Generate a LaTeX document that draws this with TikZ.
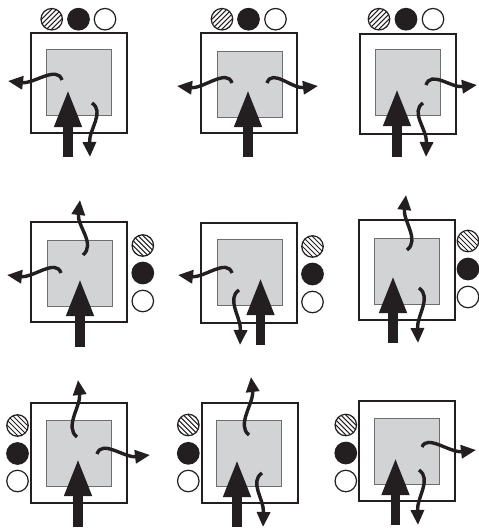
\documentclass[tikz,border=0pt]{standalone}
\usetikzlibrary{arrows.meta}
\definecolor{boxgray}{RGB}{209,211,212}
\definecolor{edgegray}{RGB}{110,110,112}
\definecolor{ink}{RGB}{35,31,32}
\tikzset{
  outerbox/.style={draw=ink, line width=2pt, fill=white, minimum width=96pt, minimum height=100pt, inner sep=0pt, outer sep=0pt},
  innerbox/.style={draw=edgegray, line width=1pt, fill=boxgray, minimum width=65pt, minimum height=66pt, inner sep=0pt},
  dot/.style={circle, draw=ink, line width=1.2pt, minimum size=21.5pt, inner sep=0pt},
  blackdot/.style={dot, fill=ink},
  whitedot/.style={dot, fill=white},
  hatchA/.style={dot, fill=white, path picture={\foreach \k in {-4,...,4}{\draw[ink, line width=1pt] (path picture bounding box.center) ++(\k*5-15,15) -- ++(30,-30);}}},
  hatchB/.style={dot, fill=white, path picture={\foreach \k in {-4,...,4}{\draw[ink, line width=1pt] (path picture bounding box.center) ++(\k*5-15,-15) -- ++(30,30);}}},
  bigarrow/.style={draw=ink, line width=9.5pt, -{Triangle[length=38pt,width=25pt]}},
  wave/.style={draw=ink, line width=3.4pt, -{Triangle[length=15pt,width=13pt]}},
}
\begin{document}
\begin{tikzpicture}[x=1pt, y=-1pt]
\useasboundingbox (0,0) rectangle (479,531);
% ---------- boxes ----------
\node[outerbox] (o1) at (79,83) {};
\node[innerbox] (i1) at (78.5,82) {};
\node[outerbox] (o2) at (249,83) {};
\node[innerbox] (i2) at (249.5,84) {};
\node[outerbox] (o3) at (407.5,83.5) {};
\node[innerbox] (i3) at (408,82) {};
\node[outerbox] (o4) at (79,271.5) {};
\node[innerbox] (i4) at (79.5,273.5) {};
\node[outerbox] (o5) at (249,272.5) {};
\node[innerbox] (i5) at (249.5,272) {};
\node[outerbox] (o6) at (407,269.5) {};
\node[innerbox] (i6) at (407,271) {};
\node[outerbox] (o7) at (79,452.5) {};
\node[innerbox] (i7) at (79,453) {};
\node[outerbox] (o8) at (249.5,453) {};
\node[innerbox] (i8) at (249,453) {};
\node[outerbox] (o9) at (407,451) {};
\node[innerbox] (i9) at (407,451) {};
% ---------- circles ----------
\node[hatchA] (c1a) at (51.7,19.2) {};
\node[blackdot] (c1b) at (78.5,19.2) {};
\node[whitedot] (c1c) at (105,19.2) {};
\node[hatchA] (c2a) at (222,19.2) {};
\node[blackdot] (c2b) at (248.5,19.2) {};
\node[whitedot] (c2c) at (275.5,19.2) {};
\node[hatchA] (c3a) at (379,19.2) {};
\node[blackdot] (c3b) at (406,19.2) {};
\node[whitedot] (c3c) at (433,19.2) {};
\node[hatchB] (c4a) at (142.8,245.5) {};
\node[blackdot] (c4b) at (142.8,273) {};
\node[whitedot] (c4c) at (142.8,301) {};
\node[hatchB] (c5a) at (312.5,246.5) {};
\node[blackdot] (c5b) at (312.5,274) {};
\node[whitedot] (c5c) at (312.5,302) {};
\node[hatchB] (c6a) at (468,241) {};
\node[blackdot] (c6b) at (468,269) {};
\node[whitedot] (c6c) at (468,297) {};
\node[hatchB] (c7a) at (17.5,425.5) {};
\node[blackdot] (c7b) at (17.5,453.5) {};
\node[whitedot] (c7c) at (17.5,481) {};
\node[hatchB] (c8a) at (188.3,425) {};
\node[blackdot] (c8b) at (188.3,453.3) {};
\node[whitedot] (c8c) at (188.3,481) {};
\node[hatchB] (c9a) at (345.8,425) {};
\node[blackdot] (c9b) at (345.8,453) {};
\node[whitedot] (c9c) at (345.8,481) {};
% ---------- big arrows ----------
\coordinate (b1s) at (68,157);   \coordinate (b1t) at (68,89);
\coordinate (b2s) at (248,157);  \coordinate (b2t) at (248,89);
\coordinate (b3s) at (397,157);  \coordinate (b3t) at (397,88);
\coordinate (b4s) at (80,347);   \coordinate (b4t) at (80,278);
\coordinate (b5s) at (260.5,345);\coordinate (b5t) at (260.5,277);
\coordinate (b6s) at (393,343);  \coordinate (b6t) at (393,275);
\coordinate (b7s) at (78,527);   \coordinate (b7t) at (78,458);
\coordinate (b8s) at (237,527);  \coordinate (b8t) at (237,459);
\coordinate (b9s) at (395.5,525);\coordinate (b9t) at (395.5,457);
\foreach \n in {1,...,9}{\draw[bigarrow] (b\n s) -- (b\n t);}
% ---------- wavy arrows ----------
% cell 1
\coordinate (h1s) at (62,80);   \coordinate (h1e) at (8,81);
\draw[wave] (h1s) .. controls (57,65) and (34,84) .. (h1e);
\coordinate (d1s) at (92,103);  \coordinate (d1e) at (90,157);
\draw[wave] (d1s) .. controls (105,112) and (89,129) .. (d1e);
% cell 2
\coordinate (h2s) at (232,83);  \coordinate (h2e) at (177,86);
\draw[wave] (h2s) .. controls (227,68) and (203,89) .. (h2e);
\coordinate (r2s) at (267,83);  \coordinate (r2e) at (318,86);
\draw[wave] (r2s) .. controls (272,68) and (292,89) .. (r2e);
% cell 3
\coordinate (r3s) at (426,85);  \coordinate (r3e) at (477,85);
\draw[wave] (r3s) .. controls (431,70) and (451,88) .. (r3e);
\coordinate (d3s) at (423,103); \coordinate (d3e) at (426,157);
\draw[wave] (d3s) .. controls (410,112) and (427,129) .. (d3e);
% cell 4
\coordinate (u4s) at (83,255);  \coordinate (u4e) at (80,200);
\draw[wave] (u4s) .. controls (96,244) and (77,226) .. (u4e);
\coordinate (h4s) at (61,273);  \coordinate (h4e) at (7,275);
\draw[wave] (h4s) .. controls (56,258) and (33,278) .. (h4e);
% cell 5
\coordinate (h5s) at (232,273); \coordinate (h5e) at (178,275);
\draw[wave] (h5s) .. controls (227,258) and (204,278) .. (h5e);
\coordinate (d5s) at (239,290); \coordinate (d5e) at (240,345);
\draw[wave] (d5s) .. controls (226,299) and (241,317) .. (d5e);
% cell 6
\coordinate (u6s) at (407,250); \coordinate (u6e) at (406,195);
\draw[wave] (u6s) .. controls (420,240) and (403,221) .. (u6e);
\coordinate (d6s) at (419,288); \coordinate (d6e) at (418,343);
\draw[wave] (d6s) .. controls (432,297) and (417,315) .. (d6e);
% cell 7
\coordinate (u7s) at (77,437);  \coordinate (u7e) at (78,380);
\draw[wave] (u7s) .. controls (64,427) and (81,406) .. (u7e);
\coordinate (r7s) at (97,454);  \coordinate (r7e) at (150,455);
\draw[wave] (r7s) .. controls (102,439) and (124,458) .. (r7e);
% cell 8
\coordinate (u8s) at (249,435); \coordinate (u8e) at (251,377);
\draw[wave] (u8s) .. controls (236,425) and (254,403) .. (u8e);
\coordinate (d8s) at (262,473); \coordinate (d8e) at (263,527);
\draw[wave] (d8s) .. controls (249,482) and (264,499) .. (d8e);
% cell 9
\coordinate (r9s) at (422,447); \coordinate (r9e) at (476,450);
\draw[wave] (r9s) .. controls (427,434) and (450,453) .. (r9e);
\coordinate (d9s) at (419,470); \coordinate (d9e) at (418,525);
\draw[wave] (d9s) .. controls (432,479) and (417,497) .. (d9e);
\end{tikzpicture}
\end{document}
